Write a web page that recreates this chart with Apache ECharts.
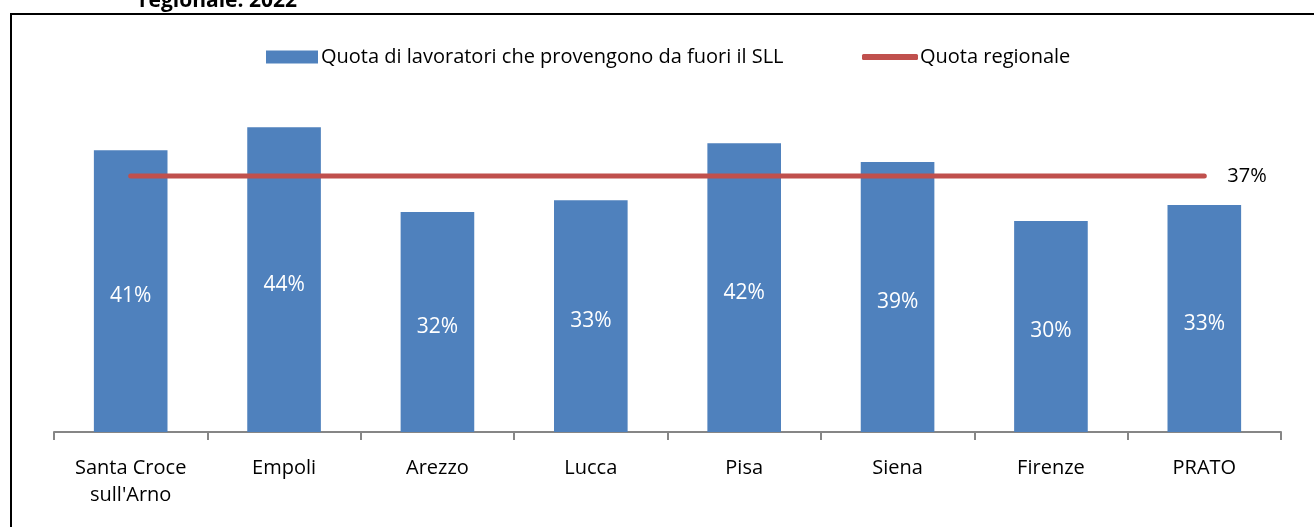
<!DOCTYPE html>
<html>
<head>
<meta charset="utf-8">
<script src="https://cdn.jsdelivr.net/npm/echarts@6/dist/echarts.min.js"></script>
<style>
  html, body { margin: 0; padding: 0; background: #fff; }
  #chart { width: 1314px; height: 527px; }
</style>
</head>
<body>
<div id="chart"></div>
<script>
// categories and values
const categories = ['Santa Croce\nsull\'Arno', 'Empoli', 'Arezzo', 'Lucca', 'Pisa', 'Siena', 'Firenze', 'PRATO']
const quotaSLL = [40.6, 43.9, 31.7, 33.4, 41.6, 38.9, 30.4, 32.7]
const quotaRegionale = [36.9, 36.9, 36.9, 36.9, 36.9, 36.9, 36.9, 36.9]

const font = '"Open Sans", Lato, sans-serif'
const barName = 'Quota di lavoratori che provengono da fuori il SLL'
const lineName = 'Quota regionale'

var myChart = echarts.init(document.getElementById('chart'))

var option = {
    animation: false,
    title: {
        text: 'regionale: 2022',
        left: 134,
        top: -14,
        textStyle: { fontFamily: font, fontSize: 21, fontWeight: 'bold', color: '#000' }
    },
    graphic: [{
        type: 'polyline',
        shape: { points: [[11, 527], [11, 14], [1314, 14]] },
        style: { stroke: '#000', lineWidth: 2, fill: null }
    }],
    // two legends so each swatch gets its own size
    legend: [{
        left: 261,
        top: 42,
        itemWidth: 52,
        itemHeight: 13,
        textStyle: { fontFamily: font, fontSize: 20, color: '#000', padding: [0, 0, 0, -2] },
        data: [{ name: barName, icon: 'rect' }]
    }, {
        left: 857,
        top: 42,
        itemWidth: 56,
        itemHeight: 6,
        textStyle: { fontFamily: font, fontSize: 20, color: '#000', padding: [0, 0, 0, -3] },
        data: [{ name: lineName, icon: 'roundRect' }]
    }],
    grid: { left: 54, right: 33, top: 85, bottom: 95 },
    xAxis: {
        type: 'category',
        data: categories,
        axisLine: { lineStyle: { color: '#868686', width: 2 } },
        axisTick: { show: true, length: 8, lineStyle: { color: '#868686', width: 2 } },
        axisLabel: { fontFamily: font, fontSize: 20, color: '#000', margin: 23, lineHeight: 27, interval: 0 }
    },
    yAxis: {
        type: 'value',
        min: 0,
        max: 50,
        show: false,
        splitLine: { show: false }
    },
    series: [
        {
            name: barName,
            type: 'bar',
            data: quotaSLL,
            barWidth: '48%',
            itemStyle: { color: '#4F81BD' },
            label: {
                show: true,
                position: 'inside',
                offset: [0, 5],
                color: '#fff',
                fontFamily: font,
                fontSize: 21,
                formatter: p => Math.round(p.value) + '%'
            }
        },
        {
            name: lineName,
            type: 'line',
            data: quotaRegionale,
            symbol: 'none',
            lineStyle: { color: '#C0504D', width: 5, cap: 'round' },
            itemStyle: { color: '#C0504D' },
            endLabel: {
                show: true,
                color: '#000',
                fontFamily: font,
                fontSize: 20,
                distance: 23,
                formatter: p => Math.round(p.value) + '%'
            }
        }
    ]
}

myChart.setOption(option)
</script>
</body>
</html>
